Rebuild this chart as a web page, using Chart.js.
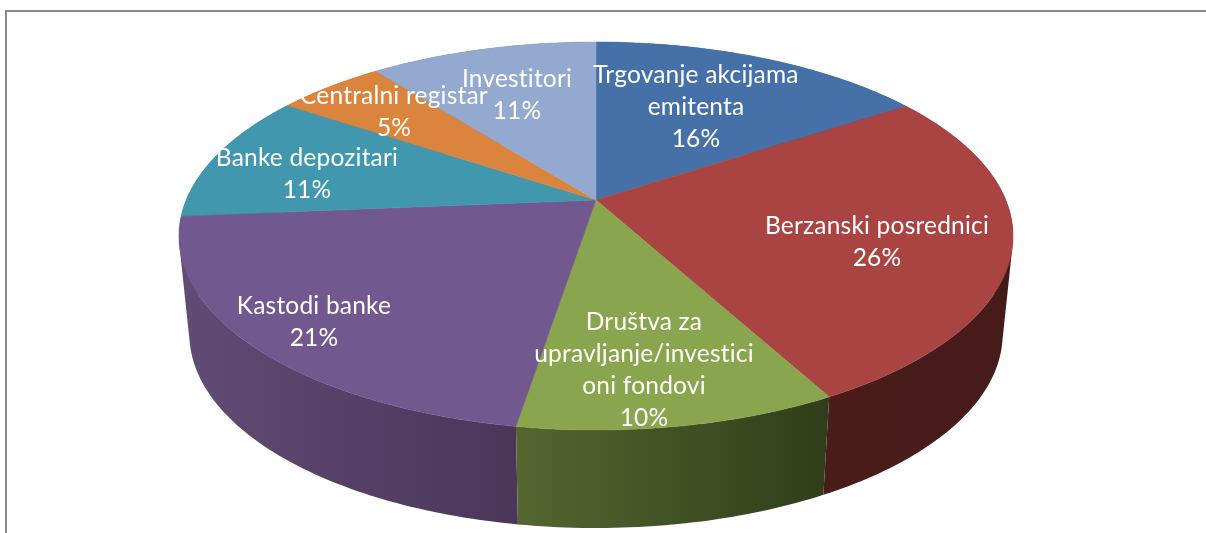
<!DOCTYPE html>
<html><head><meta charset="utf-8">
<style>html,body{margin:0;padding:0;background:#fff;overflow:hidden}
#frame{position:absolute;left:5px;top:10px;width:1201px;height:523px;border-left:2px solid #8a8a8a;border-top:2px solid #8a8a8a;box-sizing:border-box}
canvas{position:absolute;left:0;top:0}</style>
<script src="https://cdn.jsdelivr.net/npm/chart.js@4"></script>
</head><body><div id="frame"></div><canvas id="c" width="1206" height="533"></canvas>
<script>
const categories = ['Trgovanje akcijama emitenta','Berzanski posrednici','Društva za upravljanje/investicioni fondovi','Kastodi banke','Banke depozitari','Centralni registar','Investitori'];
const shares = [15.7,26.4,10.45,21.1,10.75,5.05,10.55];
const topColors = ['#4571a8','#a94443','#89a54e','#71588f','#4197ae','#db843d','#93a9cf'];
const wallLeft  = ['#2f4d74','#4a1c1a','#56662f','#604c75','#2b6577','#96592a','#64738f'];
const wallRight = ['#2f4d74','#451b19','#303d1a','#4a3659','#2b6577','#96592a','#64738f'];
const labelLines = [['Trgovanje akcijama','emitenta'],['Berzanski posrednici'],['Društva za','upravljanje/investici','oni fondovi'],['Kastodi banke'],['Banke depozitari'],['Centralni registar'],['Investitori']];
// label block centres and line step (page layout, px)
const labelAnchor = [[696,75],[877,226],[644,322],[314,306],[307,158],[394,96],[517,79]];
const lineStep = 32;
const wallOrder = [0,6,5,4,1,3,2];

// projection of the pie's disc onto the tilted view
const view = {cx:596, apexY:200, a:409.8, p:150.2, k:-0.1856, wallScale:0.975, wallDrop:98};
function project(angle){
  const X = Math.cos(angle), Y = Math.sin(angle), w = 1+view.k*Y;
  return {x:view.cx+view.a*X/w, y:(view.apexY+view.p*Y)/w};
}
function lower(pt){ return {x:view.cx+(pt.x-view.cx)*view.wallScale, y:pt.y+view.wallDrop}; }
function rim(el){
  const out=[], steps=Math.max(2,Math.ceil((el.endAngle-el.startAngle)*60));
  for(let i=0;i<=steps;i++) out.push(project(el.startAngle+(el.endAngle-el.startAngle)*i/steps));
  return out;
}
function addQuad(ctx,q){
  let area=0;
  q.forEach((p,i)=>{const n=q[(i+1)%4];area+=p.x*n.y-n.x*p.y;});
  const o=area<0?q.slice().reverse():q;
  ctx.moveTo(o[0].x,o[0].y);ctx.lineTo(o[1].x,o[1].y);ctx.lineTo(o[2].x,o[2].y);ctx.lineTo(o[3].x,o[3].y);ctx.closePath();
}
const tiltedPie = {
  id:'tiltedPie',
  beforeDatasetsDraw(chart){
    const ctx=chart.ctx, arcs=chart.getDatasetMeta(0).data;
    wallOrder.forEach(i=>{
      const pts=rim(arcs[i]), lo=pts.map(lower);
      const xs=pts.map(p=>p.x).concat(lo.map(p=>p.x));
      const g=ctx.createLinearGradient(Math.min(...xs),0,Math.max(...xs),0);
      g.addColorStop(0,wallLeft[i]); g.addColorStop(1,wallRight[i]);
      ctx.fillStyle=g;
      ctx.beginPath();
      for(let j=0;j<pts.length-1;j++) addQuad(ctx,[pts[j],pts[j+1],lo[j+1],lo[j]]);
      ctx.fill();
    });
    arcs.forEach((el,i)=>{
      const pts=rim(el);
      ctx.beginPath();ctx.moveTo(view.cx,view.apexY);
      pts.forEach(p=>ctx.lineTo(p.x,p.y));ctx.closePath();
      ctx.fillStyle=topColors[i];ctx.strokeStyle=topColors[i];ctx.lineWidth=0.5;ctx.fill();ctx.stroke();
    });
  },
  beforeDatasetDraw(){ return false; },
  afterDatasetsDraw(chart){
    const ctx=chart.ctx, data=chart.data.datasets[0].data;
    ctx.save();
    ctx.fillStyle='#fff';ctx.font='24.5px Lato';ctx.letterSpacing='0.2px';ctx.textAlign='center';ctx.textBaseline='middle';
    data.forEach((v,i)=>{
      const lines=labelLines[i].concat([Math.round(v)+'%']);
      lines.forEach((t,j)=>ctx.fillText(t,labelAnchor[i][0],labelAnchor[i][1]+j*lineStep));
    });
    ctx.restore();
  }
};
new Chart(document.getElementById('c'),{
  type:'pie',
  data:{labels:categories,datasets:[{data:shares,backgroundColor:topColors,borderWidth:0}]},
  options:{responsive:false,animation:false,events:[],
    plugins:{legend:{display:false},tooltip:{enabled:false}}},
  plugins:[tiltedPie]
});
</script></body></html>
